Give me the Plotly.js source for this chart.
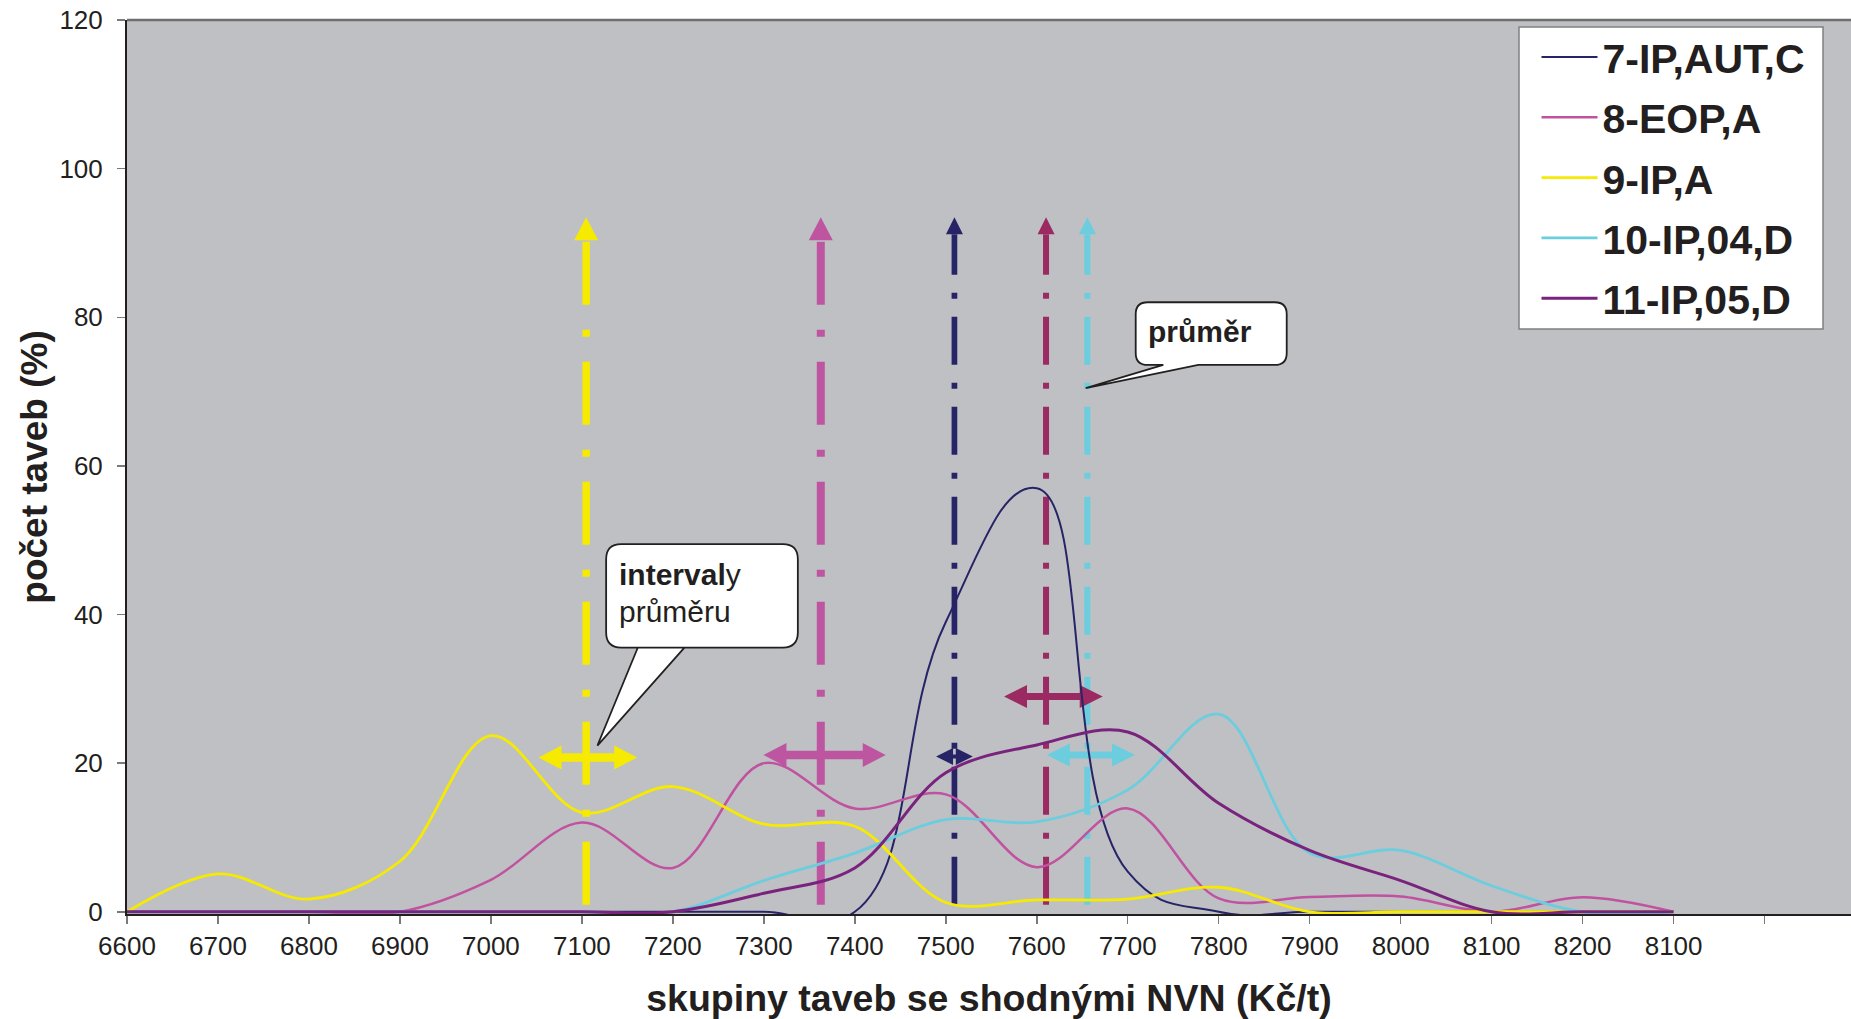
<!DOCTYPE html>
<html><head><meta charset="utf-8">
<script src="https://cdn.plot.ly/plotly-3.0.1.min.js"></script>
<style>html,body{margin:0;padding:0;background:#fff;}#chart{width:1851px;height:1019px;}</style>
</head><body><div id="chart"></div>
<script>
// ---------- data ----------
const tickLabels = ['6600','6700','6800','6900','7000','7100','7200','7300','7400','7500','7600','7700','7800','7900','8000','8100','8200','8100'];
const seriesNames = ['7-IP,AUT,C','8-EOP,A','9-IP,A','10-IP,04,D','11-IP,05,D'];
const s7  = [0,0,0,0,0,0,0,0,0,39,57,5.4,0,0,0,0,0,0];
const s8  = [0,0,0,0,4.3,12.0,5.9,20.0,13.9,15.8,6.0,13.9,1.8,2.0,2.05,0,1.97,0];
const s9  = [0,5.1,1.7,6.8,23.7,13.35,16.85,11.8,11.5,1.25,1.6,1.7,3.3,0,0,0,0,0];
const s10 = [0,0,0,0,0,0,0,4.2,7.9,12.4,12.1,16.4,26.6,7.9,8.25,3.5,0,0];
const s11 = [0,0,0,0,0,0,0,2.5,5.9,18.7,22.45,24.2,14.6,8.25,4.2,0,0,0];
// mean (průměr) and interval of the mean, Kč/t, in series order
const meanKc       = [7509.5, 7362.6, 7104.7, 7655.6, 7610.2];
const intervalLow  = [7489.3, 7299.6, 7052.3, 7611.0, 7564.0];
const intervalHigh = [7529.7, 7434.0, 7160.8, 7708.0, 7672.5];
const intervalLevel = [20.9, 21.1, 20.76, 21.1, 28.97];   // % level where interval arrow is drawn
const meanTop = 93.45;       // % level of the mean arrow tips
const meanBottom = 0.94;

// ---------- styles ----------
const seriesColors = ['#262466','#C0529F','#F5EA00','#6BCDDD','#7A237D'];
const seriesWidths = [2, 2.5, 2.8, 2.8, 3];
const seriesSmoothing = [1.3, 1, 1, 1, 1];
const meanColors = ['#262466','#BD55A0','#F5EA00','#6BCDDD','#9B2A62'];
const big = {vWidth:7.5, dash:'63px,25px,7px,25px', vHeadW:24, vHeadH:23, hHeadL:23, hHeadH:24, shaft:8.5};
const markerStyles = [
  {vWidth:5.7, dash:'48px,18px,6px,18px', vHeadW:17, vHeadH:17, hHeadL:17, hHeadH:17, shaft:4},
  Object.assign({}, big, {vWidth:8}),
  big,
  {vWidth:6, dash:'48px,18px,6px,18px', vHeadW:17, vHeadH:17, hHeadL:23, hHeadH:23, shaft:7},
  {vWidth:6, dash:'48px,18px,6px,18px', vHeadW:17, vHeadH:17, hHeadL:23, hHeadH:23, shaft:7}
];
const FONT = 'Liberation Sans, Arial, sans-serif';
const INK = '#231F20';

const W = 1851, H = 1019;
const M = {l:127, r:0, t:20, b:105};
const plotW = W - M.l - M.r, plotH = H - M.t - M.b;
const xRange = [0, 18.95];
const yRange = [-0.3, 120];
const pxX = plotW / (xRange[1] - xRange[0]);
const pxY = plotH / (yRange[1] - yRange[0]);
const toIdx = v => (v - 6600) / 100;
const paperX = px => (px - M.l) / plotW;
const paperY = py => (H - M.b - py) / plotH;
const xIdx = tickLabels.map((_, i) => i);
const seriesY = [s7, s8, s9, s10, s11];

const traces = seriesNames.map((n, k) => ({
  type:'scatter', mode:'lines', name:n, x:xIdx, y:seriesY[k],
  legendgroup:'g'+k,
  line:{color:seriesColors[k], width:seriesWidths[k], shape:'spline', smoothing:seriesSmoothing[k]}
}));

const shapes = [];
meanKc.forEach((m, k) => {
  const st = markerStyles[k];
  const xi = toIdx(m);
  const baseY = meanTop - st.vHeadH / pxY;
  shapes.push({type:'line', xref:'x', yref:'y', x0:xi, x1:xi, y0:meanBottom, y1:baseY,
    line:{color:meanColors[k], width:st.vWidth, dash:st.dash}, layer:'below'});
  shapes.push({type:'path', xref:'x', yref:'y', xsizemode:'pixel', ysizemode:'pixel',
    xanchor:xi, yanchor:meanTop,
    path:`M0,0L${-st.vHeadW/2},${-st.vHeadH}L${st.vHeadW/2},${-st.vHeadH}Z`,
    fillcolor:meanColors[k], line:{width:0}, layer:'below'});
  const lo = toIdx(intervalLow[k]), hi = toIdx(intervalHigh[k]);
  const w = (hi - lo) * pxX, hl = st.hHeadL, hh = st.hHeadH/2, t = st.shaft/2;
  const p = `M0,0L${hl},${hh}L${hl},${t}L${w-hl},${t}L${w-hl},${hh}L${w},0L${w-hl},${-hh}L${w-hl},${-t}L${hl},${-t}L${hl},${-hh}Z`;
  shapes.push({type:'path', xref:'x', yref:'y', xsizemode:'pixel', ysizemode:'pixel',
    xanchor:lo, yanchor:intervalLevel[k], path:p, fillcolor:meanColors[k], line:{width:0}, layer:'below'});
});

// callout bubble path (pixel offsets from tail tip, y up)
function bubble(l, r, b, t, tb1, tb2, rad) {
  return `M0,0L${tb1},${b}L${l+rad},${b}Q${l},${b} ${l},${b+rad}L${l},${t-rad}Q${l},${t} ${l+rad},${t}` +
         `L${r-rad},${t}Q${r},${t} ${r},${t-rad}L${r},${b+rad}Q${r},${b} ${r-rad},${b}L${tb2},${b}Z`;
}
const c1x = toIdx(7117.1), c1y = 22.37;
shapes.push({type:'path', xref:'x', yref:'y', xsizemode:'pixel', ysizemode:'pixel',
  xanchor:c1x, yanchor:c1y, path:bubble(8.7, 200.4, 98, 201.4, 87, 40.4, 15),
  fillcolor:'#ffffff', line:{color:INK, width:1.8}, layer:'above'});
const c2x = toIdx(7653.8), c2y = 70.45;
shapes.push({type:'path', xref:'x', yref:'y', xsizemode:'pixel', ysizemode:'pixel',
  xanchor:c2x, yanchor:c2y, path:bubble(50, 201, 23.3, 86, 77.6, 112.6, 12),
  fillcolor:'#ffffff', line:{color:INK, width:1.8}, layer:'above'});
// top frame line
shapes.push({type:'line', xref:'paper', yref:'paper', x0:0, x1:1, y0:1, y1:1, line:{color:'#6e6e6e', width:2.5}});
// legend frame
shapes.push({type:'rect', xref:'paper', yref:'paper', x0:paperX(1519), x1:paperX(1823), y0:paperY(329), y1:paperY(27),
  fillcolor:'#ffffff', line:{color:'#808080', width:1.5}, layer:'above'});

const annotations = [
  {xref:'x', yref:'y', x:c1x, y:c1y, xanchor:'left', yanchor:'middle', xshift:20, yshift:171.2,
   text:'<b>interval</b>y', showarrow:false, font:{family:FONT, size:30, color:INK}},
  {xref:'x', yref:'y', x:c1x, y:c1y, xanchor:'left', yanchor:'middle', xshift:20, yshift:134.5,
   text:'průměru', showarrow:false, font:{family:FONT, size:30, color:INK}},
  {xref:'x', yref:'y', x:c2x, y:c2y, xanchor:'left', yanchor:'middle', xshift:60.6, yshift:57.1,
   text:'<b>průměr</b>', showarrow:false, font:{family:FONT, size:30, color:INK}}
];

const tickFont = {family:FONT, size:26, color:INK};
const layout = {
  width:W, height:H, margin:M,
  paper_bgcolor:'#ffffff', plot_bgcolor:'#BFC0C4',
  showlegend:true,
  legend:{x:paperX(1520.5), y:paperY(23.8), xanchor:'left', yanchor:'top',
    bgcolor:'rgba(0,0,0,0)', borderwidth:0, tracegroupgap:4, itemwidth:56, indentation:16,
    font:{family:FONT, size:41, weight:'bold', color:INK}},
  xaxis:{range:xRange, tickvals:[...xIdx, 18], ticktext:[...tickLabels, ''],
    ticks:'outside', ticklen:8, tickwidth:1.5, tickcolor:'#7a7a7a',
    showline:true, linecolor:INK, linewidth:2, showgrid:false, zeroline:false,
    tickfont:tickFont, fixedrange:true,
    title:{text:'skupiny taveb se shodnými NVN (Kč/t)', font:{family:FONT, size:37.5, weight:'bold', color:INK}, standoff:28}},
  yaxis:{range:yRange, tickvals:[0,20,40,60,80,100,120],
    ticks:'outside', ticklen:8, tickwidth:1.5, tickcolor:'#7a7a7a', ticklabelstandoff:9,
    showline:true, linecolor:INK, linewidth:2, showgrid:false, zeroline:false,
    tickfont:tickFont, fixedrange:true,
    title:{text:'počet taveb (%)', font:{family:FONT, size:37, weight:'bold', color:INK}, standoff:0}},
  xaxis2:{overlaying:'x', anchor:'y', range:xRange, tickvals:[...xIdx, 18], ticks:'inside', ticklen:8,
    tickwidth:1.5, tickcolor:'#7a7a7a', showticklabels:false, showline:false, showgrid:false, zeroline:false, fixedrange:true},
  yaxis2:{overlaying:'y', anchor:'x', range:yRange, tickvals:[0,20,40,60,80,100,120], ticks:'inside', ticklen:8,
    tickwidth:1.5, tickcolor:'#7a7a7a', showticklabels:false, showline:false, showgrid:false, zeroline:false, fixedrange:true},
  shapes:shapes, annotations:annotations
};
Plotly.newPlot('chart', traces, layout, {displayModeBar:false, staticPlot:true});
</script></body></html>
